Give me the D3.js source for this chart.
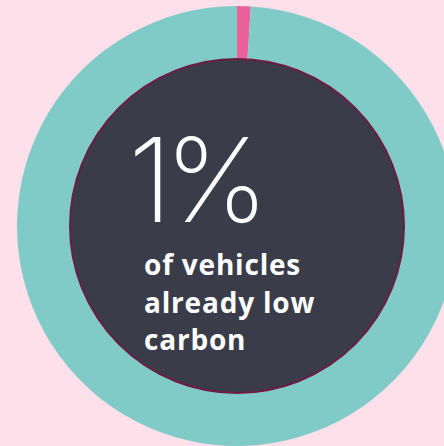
<!DOCTYPE html>
<html>
<head>
<meta charset="utf-8">
<script src="https://cdn.jsdelivr.net/npm/d3@7"></script>
<style>
  html, body { margin: 0; padding: 0; background: #fde0ea; }
  svg { display: block; }
</style>
</head>
<body>
<svg id="chart" width="444" height="446"></svg>
<script>
// Share of vehicles by type
const categories = ["Low carbon", "Other"];
const values = [1, 99];
const colors = ["#e9609b", "#80cbc8"];
const headline = "1%";
const captionLines = ["of vehicles", "already low", "carbon"];

const svg = d3.select("#chart");
const cx = 237, cy = 226;
const outerR = 220, innerR = 160, coreR = 167;

const pie = d3.pie().sort(null).value(d => d.value);
const arc = d3.arc().innerRadius(innerR).outerRadius(outerR);
const data = categories.map((c, i) => ({ category: c, value: values[i] }));

const g = svg.append("g").attr("transform", `translate(${cx},${cy})`);

g.selectAll("path.slice")
  .data(pie(data))
  .join("path")
  .attr("class", "slice")
  .attr("d", arc)
  .attr("fill", (d, i) => colors[i]);

// dark centre disc
g.append("circle")
  .attr("r", coreR)
  .attr("fill", "#3a3d49")
  .attr("stroke", "#6e1c42")
  .attr("stroke-width", 2);

// headline figure
svg.append("text")
  .attr("x", 128)
  .attr("y", 222)
  .attr("fill", "#ffffff")
  .attr("font-family", "Inter, 'Open Sans', sans-serif")
  .attr("font-weight", 200)
  .attr("font-size", 117)
  .attr("letter-spacing", -8)
  .text(headline);

// caption
const cap = svg.append("text")
  .attr("fill", "#ffffff")
  .attr("font-family", "'Open Sans', sans-serif")
  .attr("font-weight", 700)
  .attr("font-size", 28)
  .attr("letter-spacing", 0.8);
cap.selectAll("tspan")
  .data(captionLines)
  .join("tspan")
  .attr("x", 144)
  .attr("y", (d, i) => 275 + i * 37.5)
  .text(d => d);
</script>
</body>
</html>
